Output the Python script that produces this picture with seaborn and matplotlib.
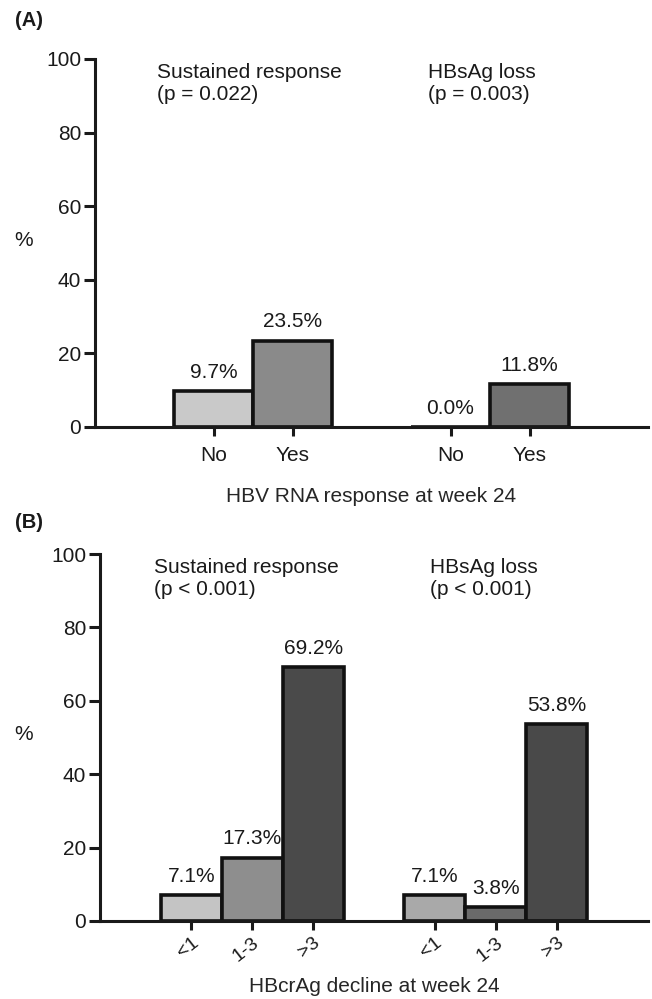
import matplotlib
matplotlib.use("Agg")
import matplotlib.pyplot as plt
import matplotlib.transforms as mtransforms
import seaborn as sns
import pandas as pd

# ---- data ----
a_groups = ["Sustained response", "HBsAg loss"]
a_pvals = ["(p = 0.022)", "(p = 0.003)"]
a_cats = ["No", "Yes"]
a_sustained = [9.7, 23.5]
a_hbsag = [0.0, 11.8]
a_xlabel = "HBV RNA response at week 24"

b_groups = ["Sustained response", "HBsAg loss"]
b_pvals = ["(p < 0.001)", "(p < 0.001)"]
b_cats = ["<1", "1-3", ">3"]
b_sustained = [7.1, 17.3, 69.2]
b_hbsag = [7.1, 3.8, 53.8]
b_xlabel = "HBcrAg decline at week 24"

yticks = [0, 20, 40, 60, 80, 100]

a_colors = ["#c9c9c9", "#8a8a8a", "#c9c9c9", "#707070"]
b_colors = ["#c4c4c4", "#8e8e8e", "#4a4a4a", "#a9a9a9", "#6a6a6a", "#494949"]

sns.set_theme(style="ticks")
plt.rcParams["font.family"] = ["Liberation Sans", "DejaVu Sans"]
plt.rcParams["text.color"] = "#1a1a1a"
plt.rcParams["xtick.color"] = "#1a1a1a"
plt.rcParams["ytick.color"] = "#1a1a1a"
FS = 15

fig = plt.figure(figsize=(6.52, 9.99), dpi=100)
axA = fig.add_axes([95/652, 1-427/999, (648-95)/652, (427-59)/999])
axB = fig.add_axes([100/652, 1-921/999, (648-100)/652, (921-554)/999])


def panel(ax, cats, series, groups, pvals, colors, xlabel, rot, txt_x,
          tick_pad, label_pad):
    n = len(cats)
    rows = []
    for g, vals in enumerate(series):
        for i, (c, v) in enumerate(zip(cats, vals)):
            rows.append({"pos": float(g * (n + 1) + i), "val": v,
                         "key": f"{g}-{i}", "lab": c})
    df = pd.DataFrame(rows)
    pal = {k: col for k, col in zip(df["key"], colors)}
    sns.barplot(data=df, x="pos", y="val", hue="key", palette=pal,
                native_scale=True, dodge=False, width=1.0, legend=False,
                edgecolor="#111111", linewidth=2.6, saturation=1, ax=ax,
                errorbar=None)
    ax.set_xlim(-1.5, len(series) * (n + 1) - 1 + 0.5)
    ax.set_ylim(0, 100)
    ax.set_yticks(yticks)
    ax.set_yticklabels([str(t) for t in yticks], fontsize=FS)
    ax.set_xticks(df["pos"])
    if rot:
        ax.set_xticklabels(df["lab"], fontsize=FS - 1, rotation=38,
                           ha="right", va="top", rotation_mode="anchor")
    else:
        ax.set_xticklabels(df["lab"], fontsize=FS)
    for _, r in df.iterrows():
        ax.annotate(f"{r['val']:.1f}%", (r["pos"], r["val"]),
                    xytext=(0, 6.5), textcoords="offset points",
                    ha="center", va="bottom", fontsize=FS)
    sns.despine(ax=ax)
    for s in ("left", "bottom"):
        ax.spines[s].set_linewidth(2.2)
        ax.spines[s].set_color("#1a1a1a")
    ax.tick_params(axis="y", length=8, width=2.2, color="#1a1a1a", pad=2)
    ax.tick_params(axis="x", length=6.5, width=2.2, color="#1a1a1a",
                   pad=tick_pad)
    ax.set_ylabel("")
    ax.set_xlabel(xlabel, fontsize=FS, labelpad=label_pad)
    ax.set_facecolor("white")
    trans = mtransforms.blended_transform_factory(ax.transAxes, ax.transData)
    for g, (name, p) in enumerate(zip(groups, pvals)):
        ax.text(txt_x[g], 99.0, f"{name}\n{p}", ha="left", va="top",
                fontsize=FS, linespacing=1.25, transform=trans)


panel(axA, a_cats, [a_sustained, a_hbsag], a_groups, a_pvals, a_colors,
      a_xlabel, False, [0.112, 0.602], 7, 16)
panel(axB, b_cats, [b_sustained, b_hbsag], b_groups, b_pvals, b_colors,
      b_xlabel, True, [0.098, 0.602], 3, 9)

fig.text(15/652, 1-20/999, "(A)", fontsize=FS - 0.5, fontweight="bold",
         ha="left", va="center")
fig.text(15/652, 1-523/999, "(B)", fontsize=FS - 0.5, fontweight="bold",
         ha="left", va="center")
fig.text(24/652, 1-240/999, "%", fontsize=FS, ha="center", va="center")
fig.text(24/652, 1-735/999, "%", fontsize=FS, ha="center", va="center")

fig.savefig("out.png", dpi=100, facecolor="white")
